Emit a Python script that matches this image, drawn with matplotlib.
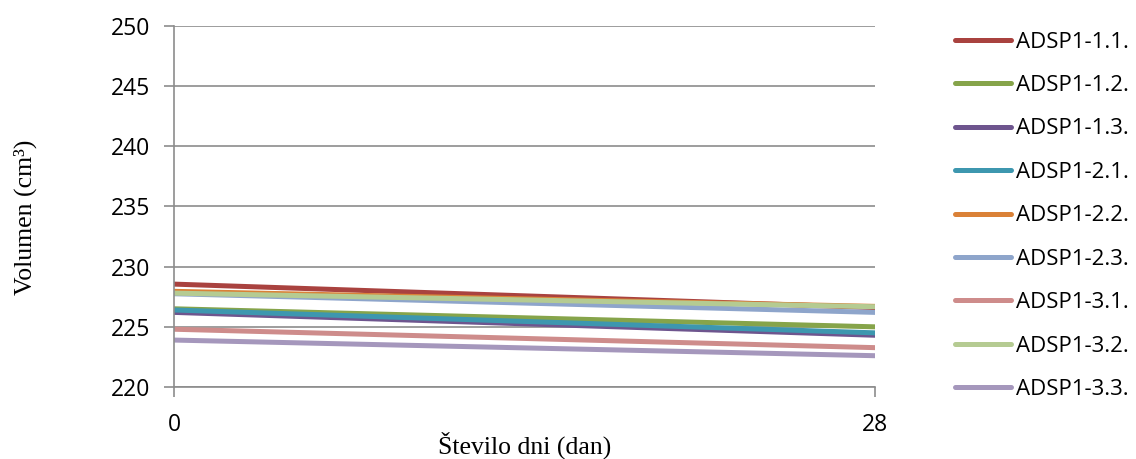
import matplotlib.pyplot as plt

# === Data ===
days = [0, 28]
series_names = ["ADSP1-1.1.", "ADSP1-1.2.", "ADSP1-1.3.",
                "ADSP1-2.1.", "ADSP1-2.2.", "ADSP1-2.3.",
                "ADSP1-3.1.", "ADSP1-3.2.", "ADSP1-3.3."]
v_11 = [228.55, 226.6]
v_12 = [226.5, 225.0]
v_13 = [226.2, 224.3]
v_21 = [226.4, 224.5]
v_22 = [227.95, 226.7]
v_23 = [227.75, 226.2]
v_31 = [224.8, 223.27]
v_32 = [227.8, 226.67]
v_33 = [223.9, 222.6]
values = [v_11, v_12, v_13, v_21, v_22, v_23, v_31, v_32, v_33]
colors = ["#A9423F", "#86A44A", "#6E558E", "#3D97AF", "#DA8137",
          "#8EA5CB", "#CE8C8B", "#B5CB92", "#A597BC"]
y_ticks = [220, 225, 230, 235, 240, 245, 250]

fig = plt.figure(figsize=(11.36, 4.59), dpi=100)
ax = fig.add_axes([174 / 1136, 1 - 387 / 459, (875 - 174) / 1136, (387 - 26) / 459])

for name, vals, c in zip(series_names, values, colors):
    ax.plot(days, vals, color=c, lw=3.6, solid_capstyle="round", label=name)

ax.set_xlim(0, 28)
ax.set_ylim(220, 250)
ax.set_yticks(y_ticks)
ax.set_xticks(days)
ax.grid(axis="y", color="#8c8c8c", lw=1.2)
ax.set_axisbelow(True)
for s in ["top", "right"]:
    ax.spines[s].set_visible(False)
for s in ["left", "bottom"]:
    ax.spines[s].set_color("#8c8c8c")
    ax.spines[s].set_linewidth(1.2)
ax.tick_params(colors="#8c8c8c", width=1.2, length=7, labelcolor="black",
               labelsize=16.5)
ax.tick_params(axis="y", pad=10)
ax.tick_params(axis="x", pad=12)
for lab in ax.get_xticklabels() + ax.get_yticklabels():
    lab.set_family("Open Sans")

ax.set_xlabel("Število dni (dan)", family="Liberation Serif", fontsize=18.5, va="center")
ax.xaxis.set_label_coords(0.5, -0.162)
ax.set_ylabel("Volumen (cm³)", family="Liberation Serif", fontsize=18.5, va="center")
ax.yaxis.set_label_coords(-0.212, 0.47)

leg = ax.legend(loc="upper left", bbox_to_anchor=(1.086, 1.04), frameon=False,
                prop={"family": "Open Sans", "size": 16}, handlelength=2.5,
                handletextpad=0.25, labelspacing=1.01)

plt.savefig("out.png", dpi=100)
